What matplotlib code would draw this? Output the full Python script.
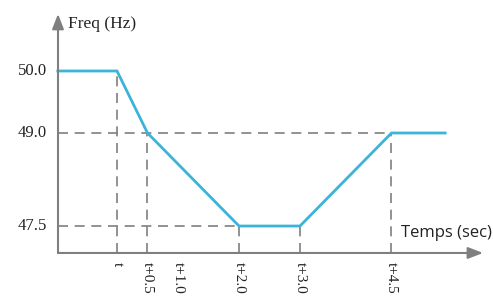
import matplotlib
matplotlib.use("Agg")
import matplotlib.pyplot as plt

# --- data ---
temps = [-0.97, 0.0, 0.5, 2.0, 3.0, 4.5, 5.38]
freq = [50.0, 50.0, 49.0, 47.5, 47.5, 49.0, 49.0]
xtick_pos = [0.0, 0.5, 1.0, 2.0, 3.0, 4.5]
xtick_labels = ["t", "t+0.5", "t+1.0", "t+2.0", "t+3.0", "t+4.5"]
ytick_pos = [50.0, 49.0, 47.5]
ytick_labels = ["50.0", "49.0", "47.5"]

# repères en pointillés : (x, y) du point de la courbe
vdash = [(0.0, 50.0), (0.5, 49.0), (2.0, 47.5), (3.0, 47.5), (4.5, 49.0)]
hdash = [(4.5, 49.0), (2.0, 47.5)]

x0, y0 = -0.967, 47.065  # origine des axes dessinés
grey = "#7f7f7f"
bleu = "#3cb4d8"
serif = ["Liberation Serif", "DejaVu Serif"]

fig = plt.figure(figsize=(4.93, 2.97), dpi=100)
ax = fig.add_axes([0, 0, 1, 1])
ax.set_xlim(-1.918, 6.164)
ax.set_ylim(46.355, 51.145)
ax.axis("off")

# pointillés
for x, y in vdash:
    ax.plot([x, x], [y0, y], color=grey, lw=1.2, dashes=(6, 4))
for x, y in hdash:
    ax.plot([x0, x], [y, y], color=grey, lw=1.2, dashes=(6, 4))

# courbe
ax.plot(temps, freq, color=bleu, lw=2, solid_joinstyle="miter")

# axes avec flèches
ax.annotate("", xy=(6.0, y0), xytext=(x0, y0),
            arrowprops=dict(arrowstyle="-|>,head_length=0.9,head_width=0.35",
                            color=grey, lw=1.5, shrinkA=0, shrinkB=0))
ax.annotate("", xy=(x0, 50.92), xytext=(x0, y0),
            arrowprops=dict(arrowstyle="-|>,head_length=0.9,head_width=0.35",
                            color=grey, lw=1.5, shrinkA=0, shrinkB=0))

# étiquettes
for y, lab in zip(ytick_pos, ytick_labels):
    ax.text(-1.15, y, lab, ha="right", va="center", fontsize=12,
            family=serif, color="#222222")
for x, lab in zip(xtick_pos, xtick_labels):
    ax.text(x, 46.92, lab, ha="center", va="top", rotation=-90,
            fontsize=11, family=serif, color="#222222")

ax.text(-0.80, 50.76, "Freq (Hz)", ha="left", va="center", fontsize=12.5,
        family=serif, color="#222222")
ax.text(4.66, 47.38, "Temps (sec)", ha="left", va="center", fontsize=12,
        family=["Open Sans", "DejaVu Sans"], color="#222222")

fig.savefig("out.png", dpi=100)
